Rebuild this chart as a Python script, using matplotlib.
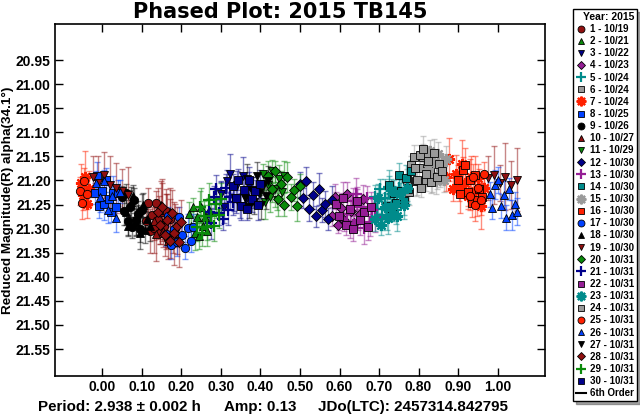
import matplotlib
matplotlib.use("Agg")
import matplotlib.pyplot as plt
from matplotlib.lines import Line2D

plt.rcParams['font.family'] = ['Liberation Sans', 'DejaVu Sans']
plt.rcParams['font.weight'] = 'bold'

# session labels (legend)
labels = ['1 - 10/19', '2 - 10/21', '3 - 10/22', '4 - 10/23', '5 - 10/24', '6 - 10/24',
          '7 - 10/24', '8 - 10/25', '9 - 10/26', '10 - 10/27', '11 - 10/29', '12 - 10/30',
          '13 - 10/30', '14 - 10/30', '15 - 10/30', '16 - 10/30', '17 - 10/30', '18 - 10/30',
          '19 - 10/30', '20 - 10/31', '21 - 10/31', '22 - 10/31', '23 - 10/31', '24 - 10/31',
          '25 - 10/31', '26 - 10/31', '27 - 10/31', '28 - 10/31', '29 - 10/31', '30 - 10/31']

# phase / reduced magnitude / error per session
p01 = [0.110, 0.115, 0.120, 0.125, 0.130, 0.135, 0.140, 0.145, 0.150, 0.155, 0.160, 0.165, 0.170]
m01 = [21.284, 21.246, 21.305, 21.272, 21.298, 21.246, 21.283, 21.309, 21.266, 21.294, 21.263, 21.321, 21.280]
e01 = [0.021, 0.030, 0.045, 0.018, 0.052, 0.025, 0.038, 0.022, 0.060, 0.027, 0.034, 0.019, 0.041]

p02 = [0.220, 0.225, 0.230, 0.235, 0.240, 0.245, 0.250, 0.255, 0.260, 0.265, 0.270]
m02 = [21.270, 21.295, 21.255, 21.310, 21.276, 21.315, 21.255, 21.294, 21.276, 21.305, 21.261]
e02 = [0.025, 0.030, 0.018, 0.035, 0.022, 0.028, 0.040, 0.020, 0.026, 0.032, 0.024]

p03 = [0.300, 0.308, 0.316, 0.324, 0.332, 0.340, 0.348, 0.356, 0.364, 0.372, 0.380]
m03 = [21.229, 21.254, 21.201, 21.186, 21.237, 21.210, 21.253, 21.190, 21.239, 21.212, 21.225]
e03 = [0.028, 0.035, 0.022, 0.041, 0.026, 0.030, 0.024, 0.038, 0.021, 0.029, 0.033]

p04 = [0.580, 0.588, 0.596, 0.604, 0.612, 0.620, 0.628, 0.636, 0.644, 0.652, 0.660]
m04 = [21.274, 21.234, 21.292, 21.257, 21.282, 21.228, 21.264, 21.288, 21.244, 21.270, 21.238]
e04 = [0.020, 0.026, 0.018, 0.031, 0.022, 0.024, 0.035, 0.019, 0.027, 0.021, 0.029]

p05 = [0.690, 0.696, 0.702, 0.708, 0.714, 0.720, 0.726, 0.732, 0.738, 0.744, 0.750]
m05 = [21.235, 21.259, 21.218, 21.272, 21.237, 21.275, 21.214, 21.252, 21.233, 21.261, 21.216]
e05 = [0.025, 0.032, 0.022, 0.030, 0.040, 0.027, 0.024, 0.033, 0.021, 0.029, 0.026]

p06 = [0.770, 0.776, 0.782, 0.788, 0.794, 0.800, 0.806, 0.812, 0.818, 0.824, 0.830]
m06 = [21.199, 21.223, 21.168, 21.152, 21.202, 21.174, 21.215, 21.151, 21.199, 21.170, 21.182]
e06 = [0.022, 0.028, 0.019, 0.025, 0.031, 0.024, 0.020, 0.027, 0.023, 0.030, 0.021]

p07 = [0.870, 0.878, 0.886, 0.894, 0.902, 0.910, 0.918, 0.926, 0.934, 0.942, 0.950, 0.958, 0.966,
       -0.055, -0.050, -0.045, -0.040, -0.035]
m07 = [21.192, 21.156, 21.218, 21.186, 21.215, 21.165, 21.205, 21.232, 21.192, 21.222, 21.194, 21.253, 21.215,
       21.205, 21.231, 21.193, 21.249, 21.217]
e07 = [0.030, 0.045, 0.025, 0.038, 0.028, 0.050, 0.032, 0.027, 0.042, 0.035, 0.029, 0.048, 0.026,
       0.040, 0.031, 0.055, 0.028, 0.036]

p08 = [-0.020, -0.014, -0.008, -0.002, 0.004, 0.010, 0.016, 0.022, 0.028, 0.034, 0.040]
m08 = [21.227, 21.191, 21.252, 21.221, 21.249, 21.199, 21.238, 21.266, 21.225, 21.255, 21.226]
e08 = [0.022, 0.030, 0.026, 0.020, 0.033, 0.024, 0.028, 0.021, 0.035, 0.025, 0.027]

p09 = [0.050, 0.055, 0.060, 0.065, 0.070, 0.075, 0.080, 0.085, 0.090, 0.095, 0.100]
m09 = [21.235, 21.263, 21.227, 21.285, 21.255, 21.297, 21.241, 21.283, 21.269, 21.301, 21.261]
e09 = [0.024, 0.030, 0.020, 0.028, 0.035, 0.022, 0.026, 0.031, 0.019, 0.027, 0.033]

p10 = [0.130, 0.136, 0.142, 0.148, 0.154, 0.160, 0.166, 0.172, 0.178, 0.184, 0.190]
m10 = [21.284, 21.312, 21.262, 21.250, 21.304, 21.280, 21.326, 21.266, 21.318, 21.294, 21.310]
e10 = [0.040, 0.055, 0.030, 0.048, 0.035, 0.062, 0.038, 0.050, 0.033, 0.045, 0.042]

p11 = [0.400, 0.406, 0.412, 0.418, 0.424, 0.430, 0.436, 0.442, 0.448, 0.454, 0.460]
m11 = [21.227, 21.187, 21.245, 21.210, 21.235, 21.181, 21.217, 21.241, 21.197, 21.223, 21.191]
e11 = [0.028, 0.022, 0.035, 0.026, 0.030, 0.024, 0.038, 0.021, 0.029, 0.025, 0.032]

p12 = [0.500, 0.508, 0.516, 0.524, 0.532, 0.540, 0.548, 0.556, 0.564, 0.572, 0.580]
m12 = [21.208, 21.237, 21.201, 21.260, 21.231, 21.274, 21.218, 21.261, 21.248, 21.280, 21.241]
e12 = [0.026, 0.021, 0.030, 0.024, 0.028, 0.022, 0.033, 0.025, 0.027, 0.023, 0.029]

p13 = [0.620, 0.627, 0.634, 0.641, 0.648, 0.655, 0.662, 0.669, 0.676, 0.683, 0.690]
m13 = [21.269, 21.295, 21.243, 21.229, 21.281, 21.255, 21.299, 21.237, 21.287, 21.261, 21.275]
e13 = [0.030, 0.024, 0.028, 0.035, 0.021, 0.027, 0.032, 0.025, 0.029, 0.023, 0.031]

p14 = [0.720, 0.726, 0.732, 0.738, 0.744, 0.750, 0.756, 0.762, 0.768, 0.774, 0.780]
m14 = [21.252, 21.209, 21.263, 21.225, 21.246, 21.189, 21.221, 21.242, 21.194, 21.217, 21.181]
e14 = [0.024, 0.030, 0.021, 0.027, 0.033, 0.025, 0.022, 0.029, 0.026, 0.031, 0.023]

p15 = [0.820, 0.825, 0.830, 0.835, 0.840, 0.845, 0.850, 0.855, 0.860, 0.865, 0.870]
m15 = [21.150, 21.176, 21.138, 21.194, 21.162, 21.202, 21.144, 21.184, 21.168, 21.198, 21.156]
e15 = [0.020, 0.026, 0.023, 0.030, 0.021, 0.027, 0.024, 0.029, 0.022, 0.025, 0.028]

p16 = [0.900, 0.906, 0.912, 0.918, 0.924, 0.930, 0.936, 0.942, 0.948, 0.954, 0.960]
m16 = [21.199, 21.228, 21.179, 21.168, 21.223, 21.200, 21.247, 21.188, 21.241, 21.218, 21.235]
e16 = [0.032, 0.040, 0.027, 0.036, 0.030, 0.045, 0.028, 0.038, 0.033, 0.042, 0.029]

p17 = [0.160, 0.167, 0.174, 0.181, 0.188, 0.195, 0.202, 0.209, 0.216, 0.223, 0.230]
m17 = [21.312, 21.274, 21.334, 21.301, 21.328, 21.276, 21.314, 21.340, 21.298, 21.326, 21.296]
e17 = [0.025, 0.020, 0.030, 0.023, 0.028, 0.021, 0.026, 0.024, 0.029, 0.022, 0.027]

p18 = [0.060, 0.066, 0.072, 0.078, 0.084, 0.090, 0.096, 0.102, 0.108, 0.114, 0.120]
m18 = [21.266, 21.294, 21.245, 21.233, 21.287, 21.264, 21.310, 21.250, 21.302, 21.279, 21.295]
e18 = [0.026, 0.022, 0.031, 0.024, 0.028, 0.021, 0.033, 0.025, 0.027, 0.023, 0.030]

p19 = [0.975, 0.990, 1.005, 1.020, 1.035, 1.048, -0.025, -0.010, 0.005, 0.020, 0.035, 0.050, 0.065]
m19 = [21.195, 21.188, 21.205, 21.192, 21.210, 21.198, 21.192, 21.205, 21.188, 21.210, 21.215, 21.222, 21.230]
e19 = [0.045, 0.060, 0.038, 0.070, 0.050, 0.065, 0.042, 0.055, 0.048, 0.060, 0.052, 0.045, 0.058]

p20 = [0.420, 0.428, 0.436, 0.444, 0.452, 0.460, 0.468, 0.476, 0.484, 0.492, 0.500]
m20 = [21.190, 21.218, 21.181, 21.239, 21.208, 21.250, 21.193, 21.235, 21.220, 21.252, 21.211]
e20 = [0.030, 0.026, 0.022, 0.035, 0.028, 0.024, 0.031, 0.027, 0.023, 0.033, 0.025]

p21 = [0.270, 0.276, 0.282, 0.288, 0.294, 0.300, 0.306, 0.312, 0.318, 0.324, 0.330]
m21 = [21.266, 21.289, 21.235, 21.218, 21.267, 21.239, 21.280, 21.215, 21.262, 21.234, 21.245]
e21 = [0.028, 0.032, 0.024, 0.030, 0.026, 0.035, 0.023, 0.029, 0.031, 0.025, 0.027]

p22 = [0.590, 0.599, 0.608, 0.617, 0.626, 0.635, 0.644, 0.653, 0.662, 0.671, 0.680]
m22 = [21.248, 21.274, 21.236, 21.292, 21.260, 21.300, 21.242, 21.282, 21.266, 21.296, 21.254]
e22 = [0.024, 0.029, 0.032, 0.022, 0.035, 0.026, 0.028, 0.031, 0.023, 0.027, 0.030]

p23 = [0.690, 0.698, 0.706, 0.714, 0.722, 0.730, 0.738, 0.746, 0.754, 0.762, 0.770]
m23 = [21.280, 21.237, 21.292, 21.255, 21.277, 21.220, 21.253, 21.274, 21.228, 21.251, 21.216]
e23 = [0.025, 0.030, 0.022, 0.028, 0.034, 0.024, 0.027, 0.031, 0.023, 0.029, 0.026]

p24 = [0.790, 0.797, 0.804, 0.811, 0.818, 0.825, 0.832, 0.839, 0.846, 0.853, 0.860]
m24 = [21.174, 21.200, 21.148, 21.134, 21.186, 21.160, 21.204, 21.142, 21.192, 21.166, 21.180]
e24 = [0.024, 0.030, 0.021, 0.027, 0.025, 0.032, 0.022, 0.028, 0.026, 0.023, 0.029]

p25 = [0.930, 0.937, 0.944, 0.951, 0.958, 0.965, -0.058, -0.052, -0.046, -0.040]
m25 = [21.232, 21.192, 21.250, 21.215, 21.240, 21.186, 21.222, 21.246, 21.202, 21.228]
e25 = [0.030, 0.026, 0.035, 0.028, 0.032, 0.024, 0.029, 0.033, 0.027, 0.031]

p26 = [0.980, 0.987, 0.994, 1.001, 1.008, 1.015, 1.022, 1.029, 1.036, 1.043, 1.050,
       -0.015, -0.005, 0.005, 0.015, 0.025, 0.035, 0.045]
m26 = [21.229, 21.258, 21.209, 21.198, 21.253, 21.230, 21.277, 21.218, 21.271, 21.248, 21.265,
       21.205, 21.235, 21.201, 21.261, 21.233, 21.277, 21.223]
e26 = [0.025, 0.022, 0.030, 0.027, 0.024, 0.029, 0.026, 0.023, 0.031, 0.025, 0.028,
       0.024, 0.030, 0.022, 0.027, 0.025, 0.029, 0.023]

p27 = [0.360, 0.366, 0.372, 0.378, 0.384, 0.390, 0.396, 0.402, 0.408, 0.414, 0.420]
m27 = [21.237, 21.197, 21.255, 21.220, 21.245, 21.191, 21.227, 21.251, 21.207, 21.233, 21.201]
e27 = [0.026, 0.031, 0.022, 0.028, 0.024, 0.030, 0.025, 0.029, 0.023, 0.027, 0.032]

p28 = [0.140, 0.146, 0.152, 0.158, 0.164, 0.170, 0.176, 0.182, 0.188, 0.194, 0.200]
m28 = [21.265, 21.293, 21.256, 21.314, 21.283, 21.325, 21.268, 21.310, 21.295, 21.327, 21.286]
e28 = [0.050, 0.038, 0.060, 0.042, 0.055, 0.035, 0.048, 0.065, 0.040, 0.052, 0.045]

p29 = [0.240, 0.246, 0.252, 0.258, 0.264, 0.270, 0.276, 0.282, 0.288, 0.294, 0.300]
m29 = [21.297, 21.255, 21.310, 21.273, 21.296, 21.240, 21.273, 21.295, 21.249, 21.272, 21.238]
e29 = [0.028, 0.033, 0.025, 0.030, 0.027, 0.035, 0.024, 0.031, 0.029, 0.026, 0.032]

p30 = [0.330, 0.337, 0.344, 0.351, 0.358, 0.365, 0.372, 0.379, 0.386, 0.393, 0.400]
m30 = [21.212, 21.237, 21.198, 21.253, 21.220, 21.259, 21.200, 21.239, 21.222, 21.251, 21.208]
e30 = [0.025, 0.030, 0.022, 0.028, 0.032, 0.024, 0.027, 0.026, 0.023, 0.031, 0.029]

phases = [p01, p02, p03, p04, p05, p06, p07, p08, p09, p10, p11, p12, p13, p14, p15,
          p16, p17, p18, p19, p20, p21, p22, p23, p24, p25, p26, p27, p28, p29, p30]
mags = [m01, m02, m03, m04, m05, m06, m07, m08, m09, m10, m11, m12, m13, m14, m15,
        m16, m17, m18, m19, m20, m21, m22, m23, m24, m25, m26, m27, m28, m29, m30]
errs = [e01, e02, e03, e04, e05, e06, e07, e08, e09, e10, e11, e12, e13, e14, e15,
        e16, e17, e18, e19, e20, e21, e22, e23, e24, e25, e26, e27, e28, e29, e30]

xticks = [0.0, 0.1, 0.2, 0.3, 0.4, 0.5, 0.6, 0.7, 0.8, 0.9, 1.0]
yticks = [20.95, 21.00, 21.05, 21.10, 21.15, 21.20, 21.25, 21.30, 21.35, 21.40, 21.45, 21.50, 21.55]

# style cycles as in MPO Canopus
colors = ['#901010', '#0a8a0a', '#00008b', '#951e95', '#008b8b', '#9a9a9a', '#ff2000', '#0040ff', '#000000']
asterisk = (8, 2, 0)
markers = ['o', '^', 'v', 'D', '+', 's', asterisk, 's']

fig = plt.figure(figsize=(6.4, 4.15), dpi=100)
ax = fig.add_axes([55/640, 39/415, 490/640, 352/415])

handles = []
for i in range(30):
    c = colors[i % 9]
    mk = markers[i % 8]
    ms = 6
    if mk == 'D':
        ms = 5
    if mk == '+' or mk == asterisk:
        mec = c
        mew = 1.6
        ms = 8
    else:
        mec = 'black'
        mew = 0.6
    ax.errorbar(phases[i], mags[i], yerr=errs[i], fmt='none', ecolor=c, alpha=0.5,
                elinewidth=1, capsize=2, capthick=1, zorder=2)
    ax.plot(phases[i], mags[i], ls='none', marker=mk, ms=ms, mfc=c, mec=mec, mew=mew, zorder=3)
    hs = ms - 1 if mk not in ('+', asterisk) else 7
    handles.append(Line2D([], [], ls='none', marker=mk, ms=hs, mfc=c, mec=mec, mew=mew, label=labels[i]))
handles.append(Line2D([], [], color='black', lw=1.5, label='6th Order'))

ax.set_xlim(-0.12, 1.12)
ax.set_ylim(21.606, 20.875)
ax.set_xticks(xticks)
ax.set_xticklabels(['%.2f' % t for t in xticks])
ax.set_yticks(yticks)
ax.set_yticklabels(['%.2f' % t for t in yticks])
ax.tick_params(direction='in', length=6, width=1, top=True, right=True, labelsize=10, pad=3)
for s in ax.spines.values():
    s.set_linewidth(1.2)
ax.set_ylabel('Reduced Magnitude(R) alpha(34.1°)', fontsize=9.7, fontweight='bold')
ax.yaxis.set_label_coords(-0.083, 0.5)

fig.text(280/640, 1 - 12/415, 'Phased Plot: 2015 TB145', ha='center', va='center',
         fontsize=15, fontweight='bold', family='DejaVu Sans')
fig.text(38/640, 1 - 407/415, 'Period: 2.938 ± 0.002 h', ha='left', va='center', fontsize=10.9)
fig.text(224/640, 1 - 407/415, 'Amp: 0.13', ha='left', va='center', fontsize=10.9)
fig.text(318/640, 1 - 407/415, 'JDo(LTC): 2457314.842795', ha='left', va='center', fontsize=10.9)

leg = fig.legend(handles=handles, loc='upper right', bbox_to_anchor=(637/640, 1 - 9/415),
                 title='Year: 2015', fontsize=7, title_fontsize=7.5, frameon=True, fancybox=False,
                 shadow=True, edgecolor='black', handlelength=1.0, handletextpad=0.4,
                 labelspacing=0.22, borderpad=0.3, borderaxespad=0, alignment='right')
leg.get_frame().set_linewidth(1)
leg.get_title().set_fontweight('bold')

fig.savefig('out.png', dpi=100)
